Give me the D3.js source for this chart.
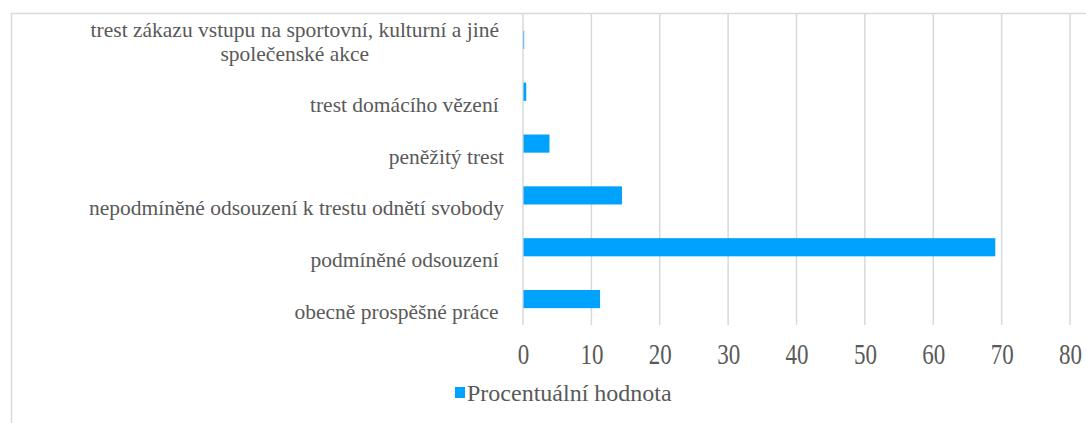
<!DOCTYPE html>
<html>
<head>
<meta charset="utf-8">
<script src="https://cdn.jsdelivr.net/npm/d3@7"></script>
<style>
  body { margin: 0; background: #fff; }
</style>
</head>
<body>
<div id="chart"></div>
<script>
// categories top to bottom, values in percent
var categories = [
    "trest zákazu vstupu na sportovní, kulturní a jiné|společenské akce",
    "trest domácího vězení ",
    "peněžitý trest",
    "nepodmíněné odsouzení k trestu odnětí svobody",
    "podmíněné odsouzení ",
    "obecně prospěšné práce "
];
var values = [0.1, 0.4, 3.8, 14.4, 69.0, 11.2];
var ticks = [0, 10, 20, 30, 40, 50, 60, 70, 80];
var seriesName = "Procentuální hodnota";

var width = 1086;
var height = 423;
var color = "#00a2ff";
var font = "Liberation Serif";
var textColor = "#595959";

var svg = d3.select("#chart")
    .append("svg")
    .attr("width", width)
    .attr("height", height);

// chart border (right and bottom edge fall outside the picture)
svg.append("rect")
    .attr("x", 11.5)
    .attr("y", 13.5)
    .attr("width", 1200)
    .attr("height", 600)
    .attr("fill", "none")
    .attr("stroke", "#d9d9d9")
    .attr("stroke-width", 1.5);

var x = d3.scaleLinear()
    .domain([0, 80])
    .range([523, 1070]);

var y = d3.scaleBand()
    .domain(categories)
    .range([14, 325])
    .paddingInner(0.65)
    .paddingOuter(0.325);

// vertical gridlines
svg.append("g")
    .selectAll("line")
    .data(ticks)
    .join("line")
    .attr("x1", d => x(d))
    .attr("x2", d => x(d))
    .attr("y1", 14)
    .attr("y2", 325)
    .attr("stroke", "#d9d9d9")
    .attr("stroke-width", 1.5);

// bars
svg.append("g")
    .selectAll("rect")
    .data(values)
    .join("rect")
    .attr("x", x(0) + 0.5)
    .attr("y", (d, i) => y(categories[i]))
    .attr("width", d => x(d) - x(0))
    .attr("height", y.bandwidth())
    .attr("fill", color);

// x axis tick labels, drawn a little stretched like the original
var xAxis = svg.append("g")
    .attr("transform", "translate(0,364)")
    .attr("font-family", font)
    .call(d3.axisBottom(x).tickValues(ticks).tickSize(0).tickPadding(0));
xAxis.select(".domain").remove();
xAxis.selectAll("text")
    .attr("dy", 0)
    .attr("y", 0)
    .attr("transform", "scale(1,1.25)")
    .attr("fill", textColor)
    .attr("font-family", font)
    .attr("font-size", 23);

// category labels
var labelRight = 504;
var lab = svg.append("g");
function addLabel(str, xx, yy, anchor) {
    return lab.append("text")
        .attr("x", xx)
        .attr("y", yy)
        .attr("text-anchor", anchor)
        .attr("font-family", font)
        .attr("font-size", 21.5)
        .attr("fill", textColor)
        .style("white-space", "pre")
        .text(str);
}
categories.forEach(function(c, i) {
    var cy = y(c) + y.bandwidth() / 2;
    var parts = c.split("|");
    if (parts.length === 1) {
        addLabel(parts[0], labelRight, cy + 20, "end");
    } else {
        var t1 = addLabel(parts[0], labelRight - 5, cy - 3, "end");
        var w = t1.node().getComputedTextLength();
        addLabel(parts[1], labelRight - 5 - w / 2, cy + 21, "middle");
    }
});

// legend
var legend = svg.append("g");
legend.append("rect")
    .attr("x", 455)
    .attr("y", 387)
    .attr("width", 10)
    .attr("height", 11)
    .attr("fill", color);
legend.append("text")
    .attr("x", 467)
    .attr("y", 401)
    .attr("font-family", font)
    .attr("font-size", 24)
    .attr("fill", textColor)
    .text(seriesName);
</script>
</body>
</html>
